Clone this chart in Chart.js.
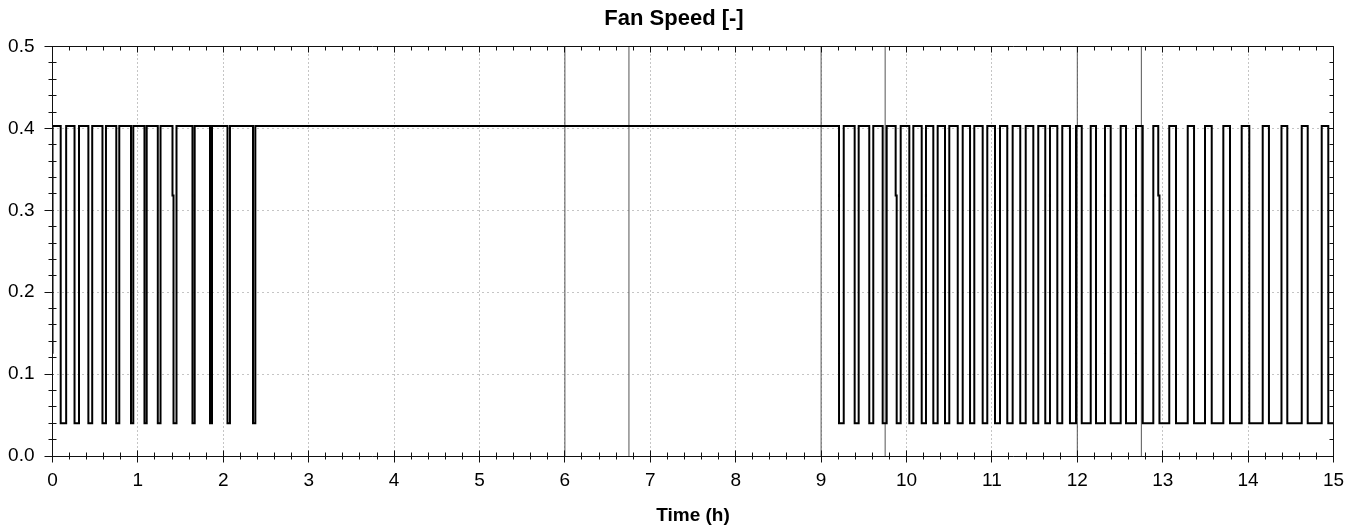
<!DOCTYPE html>
<html>
<head>
<meta charset="utf-8">
<title>Fan Speed</title>
<script src="https://cdn.jsdelivr.net/npm/chart.js@4.4.0/dist/chart.umd.min.js"></script>
<style>
  html, body { margin: 0; padding: 0; background: #fff; }
</style>
</head>
<body>
<canvas id="fan-chart" width="1364" height="531"></canvas>
<script>
// Fan speed trace (time in hours, speed in [-])
const HIGH = 0.403;
const LOW = 0.04;
const START_VALUE = 0.125;
const DIP = 0.318;

// times where the speed drops to LOW ...
const pulseStart = [
  0.096, 0.258, 0.420, 0.585, 0.747, 0.919, 1.077, 1.233, 1.417, 1.639, 1.844, 2.049, 2.348,
  9.210, 9.393, 9.564, 9.721, 9.885, 10.033, 10.178, 10.314, 10.451, 10.600, 10.744, 10.892,
  11.036, 11.180, 11.332, 11.485, 11.625, 11.766, 11.914,
  12.052, 12.219, 12.391, 12.570, 12.766, 12.962, 13.156, 13.367, 13.574, 13.788, 14.014,
  14.244, 14.459, 14.698, 14.939
];
// ... and where it comes back up to HIGH
const pulseEnd = [
  0.160, 0.310, 0.465, 0.626, 0.782, 0.946, 1.103, 1.265, 1.452, 1.665, 1.868, 2.078, 2.375,
  9.265, 9.440, 9.611, 9.768, 9.932, 10.080, 10.228, 10.365, 10.501, 10.658, 10.794, 10.946,
  11.095, 11.243, 11.396, 11.543, 11.680, 11.824, 11.985,
  12.157, 12.324, 12.508, 12.687, 12.890, 13.077, 13.293, 13.495, 13.710, 13.925, 14.171,
  14.391, 14.628, 14.862, 15.0
];
// short stops at DIP just before a drop
const dipTimes = [1.405, 9.873, 12.948];

// thin vertical event lines
const markerTimes = [6, 6.75, 9, 9.75, 12, 12.75];

const X_MAX = 15;
const Y_MAX = 0.5;
const TITLE = 'Fan Speed [-]';

Chart.defaults.font.family = "'Liberation Sans', Arial, sans-serif";
Chart.defaults.color = '#000';

function buildTrace() {
  const pts = [{ x: 0, y: START_VALUE }, { x: 0, y: HIGH }];
  pulseStart.forEach((s, i) => {
    const e = pulseEnd[i];
    const dip = dipTimes.find(d => d < s && s - d < 0.05);
    pts.push({ x: dip !== undefined ? dip : s, y: HIGH });
    if (dip !== undefined) {
      pts.push({ x: dip, y: DIP }, { x: s, y: DIP });
    }
    pts.push({ x: s, y: LOW }, { x: e, y: LOW });
    if (e < X_MAX) pts.push({ x: e, y: HIGH });
  });
  return pts;
}

function buildMarkers() {
  const pts = [];
  markerTimes.forEach(t => {
    pts.push({ x: t, y: 0 }, { x: t, y: Y_MAX }, { x: t, y: null });
  });
  return pts;
}

const crisp = v => Math.round(v - 0.5) + 0.5;

// dotted grid, frame, major/minor tick marks and the (off-centre) title
const axisFrame = {
  id: 'axisFrame',
  beforeDatasetsDraw(chart) {
    const { ctx, chartArea: a, scales: { x, y } } = chart;
    ctx.save();
    ctx.strokeStyle = '#8a8a8a';
    ctx.lineWidth = 1;
    ctx.setLineDash([1, 3]);
    for (let t = 1; t < X_MAX; t++) {
      const px = crisp(x.getPixelForValue(t));
      ctx.beginPath(); ctx.moveTo(px, a.top); ctx.lineTo(px, a.bottom); ctx.stroke();
    }
    ctx.setLineDash([1, 4]);
    for (let k = 1; k < 5; k++) {
      const py = crisp(y.getPixelForValue(k / 10));
      ctx.beginPath(); ctx.moveTo(a.left, py); ctx.lineTo(a.right, py); ctx.stroke();
    }
    ctx.restore();
  },
  afterDatasetsDraw(chart) {
    const { ctx, chartArea: a, scales: { x, y } } = chart;
    const L = crisp(a.left), R = crisp(a.right), T = crisp(a.top), B = crisp(a.bottom);
    ctx.save();
    ctx.strokeStyle = '#111';
    ctx.lineWidth = 1;
    ctx.beginPath();
    ctx.rect(L, T, R - L, B - T);
    ctx.stroke();

    ctx.beginPath();
    // x ticks every 0.2 h, major every hour
    for (let i = 0; i <= X_MAX * 5; i++) {
      const px = crisp(x.getPixelForValue(i / 5));
      const major = i % 5 === 0;
      ctx.moveTo(px, B - (major ? 6 : 4)); ctx.lineTo(px, B + (major ? 6 : 3));
      ctx.moveTo(px, T); ctx.lineTo(px, T + (major ? 6 : 4));
    }
    // y ticks every 0.02, major every 0.1
    for (let i = 0; i <= 25; i++) {
      const py = crisp(y.getPixelForValue(i / 50));
      const major = i % 5 === 0;
      if (major) { ctx.moveTo(L - 8, py); ctx.lineTo(L + 1, py); }
      else { ctx.moveTo(L - 4, py); ctx.lineTo(L + 4, py); }
      ctx.moveTo(R, py); ctx.lineTo(R - (major ? 6 : 4), py);
    }
    ctx.stroke();
    ctx.restore();
  },
  afterDraw(chart) {
    const ctx = chart.ctx;
    ctx.save();
    ctx.fillStyle = '#000';
    ctx.font = "bold 22px 'Liberation Sans', Arial, sans-serif";
    ctx.textAlign = 'center';
    ctx.textBaseline = 'middle';
    ctx.fillText(TITLE, 674, 19);
    ctx.restore();
  }
};

const ctx = document.getElementById('fan-chart').getContext('2d');
const fanChart = new Chart(ctx, {
  type: 'line',
  data: {
    datasets: [
      {
        label: 'Fan speed',
        data: buildTrace(),
        borderColor: '#000',
        borderWidth: 2,
        borderJoinStyle: 'miter',
        pointRadius: 0,
        fill: false,
        tension: 0,
        order: 1
      },
      {
        label: 'Events',
        data: buildMarkers(),
        borderColor: '#555',
        borderWidth: 1,
        pointRadius: 0,
        spanGaps: false,
        fill: false,
        order: 2
      }
    ]
  },
  options: {
    responsive: false,
    animation: false,
    devicePixelRatio: 1,
    layout: { padding: { left: 0, right: 30.5, top: 46.5, bottom: 0 } },
    plugins: {
      legend: { display: false },
      tooltip: { enabled: false },
      title: { display: false }
    },
    scales: {
      x: {
        type: 'linear',
        min: 0,
        max: X_MAX,
        grid: { display: false, drawTicks: false, tickLength: 0 },
        border: { display: false },
        ticks: { stepSize: 1, padding: 13, maxRotation: 0, autoSkip: false, font: { size: 19 }, color: '#000' },
        title: {
          display: true,
          text: 'Time (h)',
          color: '#000',
          font: { size: 19, weight: 'bold' },
          padding: { top: 4, bottom: 4 }
        },
        afterFit(scale) { scale.height = 75; }
      },
      y: {
        min: 0,
        max: Y_MAX,
        grid: { display: false, drawTicks: false, tickLength: 0 },
        border: { display: false },
        ticks: { stepSize: 0.1, padding: 18, font: { size: 19 }, color: '#000', callback: v => v.toFixed(1) },
        afterFit(scale) { scale.width = 52.5; }
      }
    }
  },
  plugins: [axisFrame]
});
</script>
</body>
</html>
